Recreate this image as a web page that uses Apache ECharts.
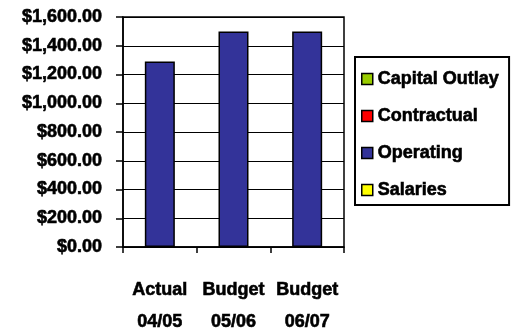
<!DOCTYPE html>
<html>
<head>
<meta charset="utf-8">
<script src="https://cdn.jsdelivr.net/npm/echarts@6/dist/echarts.min.js"></script>
<style>
  html, body { margin: 0; padding: 0; background: #ffffff; }
  #chart { width: 522px; height: 329px; }
</style>
</head>
<body>
<div id="chart"></div>
<script>
// Spending by category per fiscal year
const categories = ['Actual\n04/05', 'Budget\n05/06', 'Budget\n06/07'];
const capitalOutlay = [0, 0, 0];
const contractual = [0, 0, 0];
const operating = [1290, 1500, 1500];
const salaries = [0, 0, 0];
const seriesNames = ['Capital Outlay', 'Contractual', 'Operating', 'Salaries'];
const seriesColors = ['#99CC00', '#FF0000', '#333399', '#FFFF00'];

const FONT = '"Liberation Sans", Arial, sans-serif';

function money(v) {
  return '$' + v.toLocaleString('en-US', { minimumFractionDigits: 2, maximumFractionDigits: 2 });
}

// shared heavy label look
const heavy = {
  fontFamily: FONT, fontWeight: 'bold', fontSize: 18, color: '#000',
  textBorderColor: '#000', textBorderWidth: 0.6
};

const seriesData = [capitalOutlay, contractual, operating, salaries];

const chart = echarts.init(document.getElementById('chart'), null, { renderer: 'canvas' });
chart.setOption({
  backgroundColor: '#ffffff',
  animation: false,
  grid: {
    left: 123, right: 178, top: 17, bottom: 82,
    outerBoundsMode: 'none',
    containLabel: false,
    show: true, borderColor: '#000', borderWidth: 1.5, backgroundColor: 'transparent'
  },
  legend: {
    orient: 'vertical',
    left: 355, top: 57,
    padding: [12, 10, 5, 6],
    itemGap: 17,
    itemWidth: 11, itemHeight: 11,
    itemTextGap: 7,
    icon: 'rect',
    borderColor: '#000', borderWidth: 2,
    itemStyle: { borderColor: '#000', borderWidth: 1.5 },
    textStyle: Object.assign({ lineHeight: 20 }, heavy),
    data: seriesNames
  },
  xAxis: {
    type: 'category',
    data: categories,
    axisLine: { lineStyle: { color: '#000', width: 1.5 } },
    axisTick: { show: true, length: 6, lineStyle: { color: '#000', width: 1.5 } },
    axisLabel: Object.assign({ margin: 27, lineHeight: 32, interval: 0, hideOverlap: false }, heavy)
  },
  yAxis: {
    type: 'value',
    min: 0, max: 1600, interval: 200,
    axisLine: { show: true, lineStyle: { color: '#000', width: 1.5 } },
    axisTick: { show: true, length: 7, lineStyle: { color: '#000', width: 1.5 } },
    splitLine: { lineStyle: { color: '#000', width: 1 } },
    axisLabel: Object.assign({ margin: 21, formatter: money }, heavy)
  },
  series: seriesNames.map((name, i) => ({
    name: name,
    type: 'bar',
    stack: 'total',
    barWidth: 30,
    data: seriesData[i],
    itemStyle: {
      color: seriesColors[i],
      borderColor: '#000',
      borderWidth: name === 'Operating' ? 1.5 : 0
    }
  }))
});
</script>
</body>
</html>
